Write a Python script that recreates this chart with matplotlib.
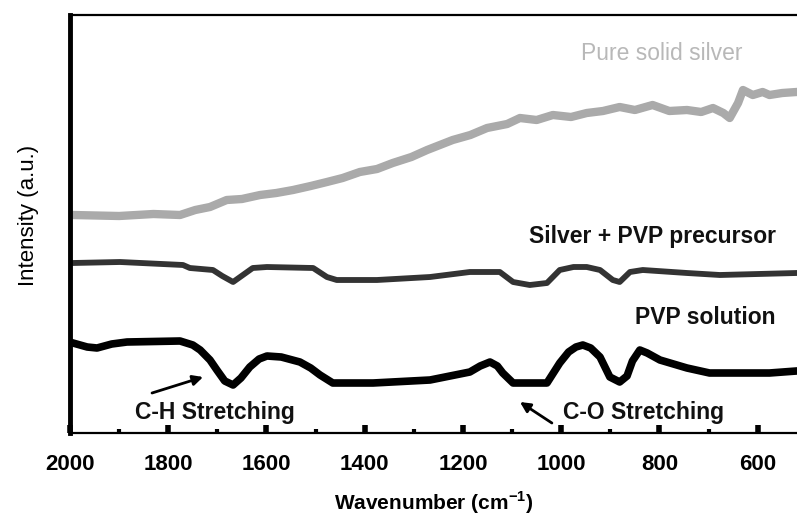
import matplotlib
matplotlib.use("Agg")
import matplotlib.pyplot as plt

plt.rcParams['font.family'] = ['Liberation Sans', 'DejaVu Sans']
plt.rcParams['mathtext.fontset'] = 'custom'
plt.rcParams['mathtext.bf'] = 'Liberation Sans:bold'
plt.rcParams['mathtext.rm'] = 'Liberation Sans:bold'

# PVP solution (bottom, black)
pvp_wn = [1994, 1965, 1945, 1915, 1884, 1776, 1750, 1735, 1715, 1701, 1685, 1668,
          1652, 1634, 1615, 1599, 1570, 1532, 1510, 1491, 1465, 1383, 1267, 1186,
          1165, 1145, 1130, 1119, 1098, 1029, 1003, 985, 970, 956, 940, 921,
          901, 881, 866, 855, 840, 825, 799, 744, 698, 576, 521]
pvp_int = [90, 86, 85, 89, 91, 92, 88, 83, 73, 63, 52, 48,
           55, 66, 74, 77, 76, 71, 65, 58, 50, 50, 53, 61,
           67, 71, 67, 60, 50, 50, 70, 81, 86, 88, 85, 76,
           56, 51, 57, 72, 83, 80, 73, 65, 60, 60, 62]

# Silver + PVP precursor (middle, dark grey)
prec_wn = [1994, 1898, 1770, 1756, 1709, 1690, 1668, 1648, 1628, 1599, 1505, 1477,
           1457, 1375, 1267, 1186, 1125, 1098, 1064, 1029, 1003, 975, 948, 921,
           895, 881, 860, 834, 744, 677, 521]
prec_int = [170, 171, 168, 165, 163, 157, 151, 158, 165, 166, 165, 156,
            153, 153, 156, 161, 161, 151, 148, 150, 163, 166, 166, 163,
            153, 151, 161, 163, 160, 158, 160]

# Pure solid silver (top, light grey)
ag_wn = [1994, 1900, 1830, 1776, 1745, 1715, 1681, 1650, 1613, 1580, 1546, 1510,
         1477, 1445, 1410, 1375, 1343, 1305, 1273, 1221, 1185, 1151, 1110, 1084,
         1050, 1017, 980, 948, 915, 881, 850, 814, 780, 744, 715, 691,
         670, 657, 640, 630, 610, 590, 576, 550, 521]
ag_int = [218, 217, 219, 218, 223, 226, 233, 234, 238, 240, 243, 247,
          251, 255, 261, 264, 270, 276, 283, 293, 298, 305, 309, 315,
          313, 318, 316, 320, 322, 326, 323, 328, 322, 323, 321, 325,
          320, 315, 330, 343, 338, 341, 338, 340, 341]

xticks = [2000, 1800, 1600, 1400, 1200, 1000, 800, 600]

fig = plt.figure(figsize=(7.97, 5.21), dpi=100)
ax = fig.add_axes([70 / 797, 88 / 521, 727 / 797, 418 / 521])

ax.plot(ag_wn, ag_int, color='#aaaaaa', lw=6, solid_joinstyle='round')
ax.plot(prec_wn, prec_int, color='#333333', lw=4.2, solid_joinstyle='round')
ax.plot(pvp_wn, pvp_int, color='black', lw=5.5, solid_joinstyle='round')

ax.set_xlim(2000, 520)
ax.set_ylim(0, 418)
ax.set_xticks(xticks)
ax.set_xticks(range(1900, 500, -200), minor=True)
ax.set_yticks([])
ax.tick_params(axis='x', which='major', direction='in', length=6, width=4,
               pad=15, labelsize=16)
ax.tick_params(axis='x', which='minor', direction='in', length=3, width=3)
for lab in ax.get_xticklabels():
    lab.set_fontweight('bold')

ax.spines['right'].set_visible(False)
ax.spines['left'].set_linewidth(3.5)
ax.spines['bottom'].set_linewidth(1.6)
ax.spines['top'].set_linewidth(1.6)

ax.set_xlabel(r'Wavenumber (cm$^{\mathbf{-1}}$)', fontsize=15, fontweight='bold')
ax.xaxis.set_label_coords(0.5, -0.134)
ax.set_ylabel('Intensity (a.u.)', fontsize=16)
ax.yaxis.set_label_coords(-0.043, 0.52)

ax.text(795, 380, 'Pure solid silver', color='#b8b8b8', fontsize=16.5,
        ha='center', va='center')
ax.text(814, 196, 'Silver + PVP precursor', fontsize=16.5, fontweight='bold',
        ha='center', va='center', color='#111111')
ax.text(706, 116, 'PVP solution', fontsize=16.5, fontweight='bold',
        ha='center', va='center', color='#111111')
ax.text(1705, 20, 'C-H Stretching', fontsize=16.5, fontweight='bold',
        ha='center', va='center', color='#111111')
ax.text(832, 20, 'C-O Stretching', fontsize=16.5, fontweight='bold',
        ha='center', va='center', color='#111111')

ax.annotate('', xy=(1729, 56), xytext=(1833, 40),
            arrowprops=dict(arrowstyle='-|>', lw=2, color='black',
                            mutation_scale=15, shrinkA=0, shrinkB=0))
ax.annotate('', xy=(1084, 31), xytext=(1019, 10),
            arrowprops=dict(arrowstyle='-|>', lw=2, color='black',
                            mutation_scale=15, shrinkA=0, shrinkB=0))

fig.savefig('out.png', dpi=100)
